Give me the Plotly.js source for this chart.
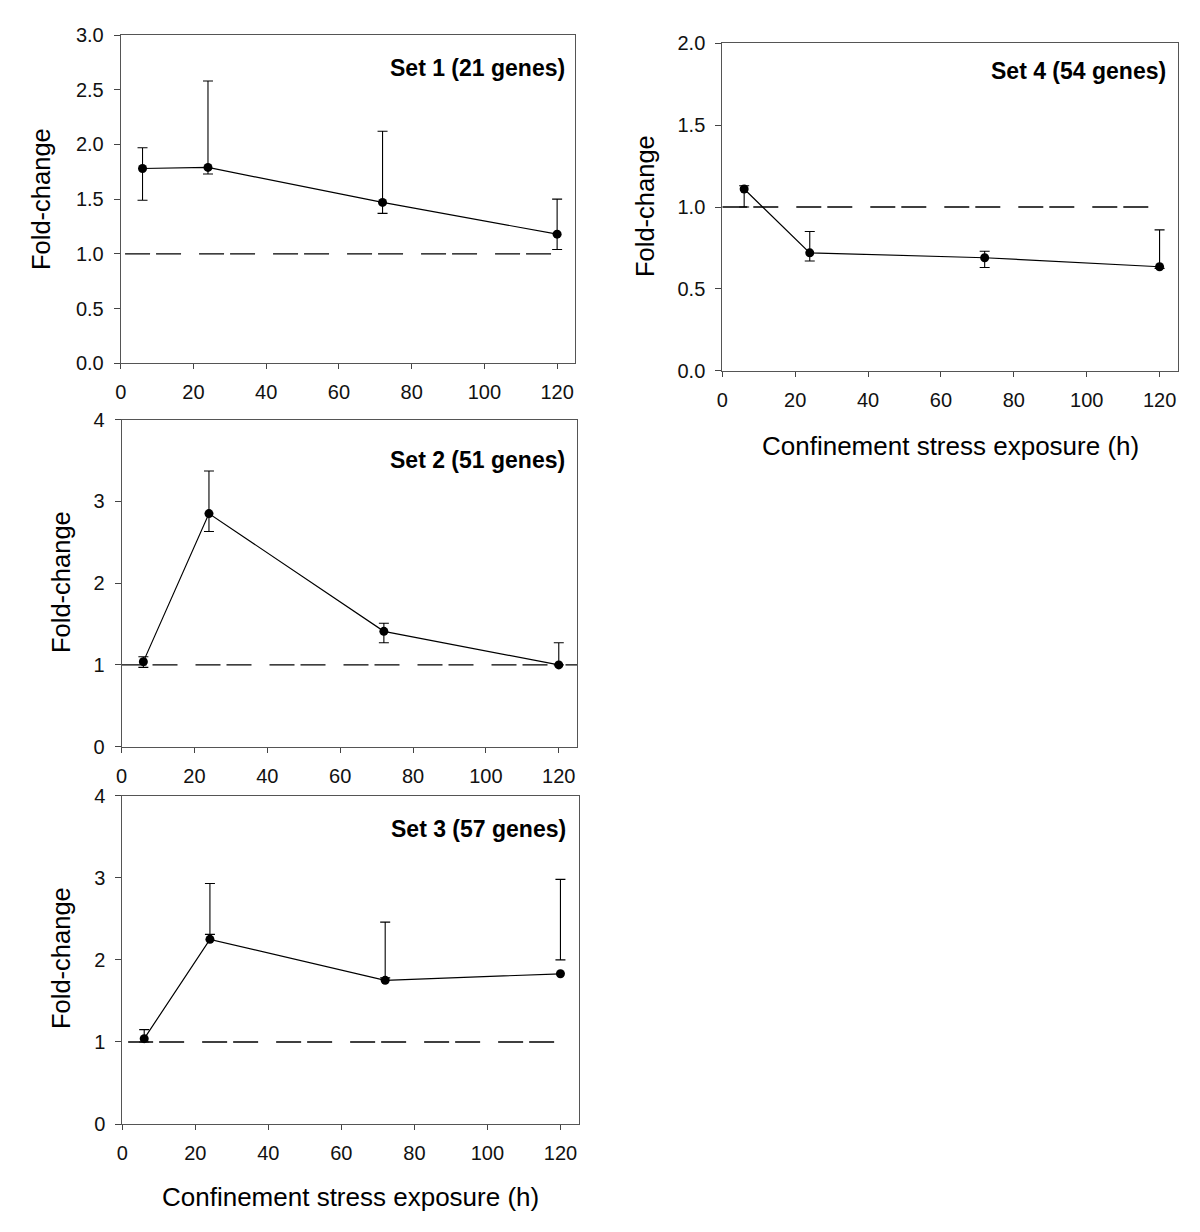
<!DOCTYPE html>
<html>
<head>
<meta charset="utf-8">
<script src="https://cdn.plot.ly/plotly-3.0.1.min.js"></script>
<style>
  html, body { margin: 0; padding: 0; background: #ffffff; }
  #chart { width: 1200px; height: 1232px; }
</style>
</head>
<body>
<div id="chart"></div>
<script>
// ---- Data ----
const hours = [6, 24, 72, 120];
const xTicks = [0, 20, 40, 60, 80, 100, 120];

const set1Mean  = [1.78, 1.79, 1.47, 1.18];
const set1Upper = [1.97, 2.58, 2.12, 1.50];
const set1Lower = [1.49, 1.73, 1.37, 1.04];

const set2Mean  = [1.04, 2.85, 1.41, 1.00];
const set2Upper = [1.10, 3.37, 1.51, 1.27];
const set2Lower = [0.97, 2.63, 1.27, 1.00];

const set3Mean  = [1.04, 2.25, 1.75, 1.83];
const set3Upper = [1.15, 2.93, 2.46, 2.98];
const set3Lower = [1.00, 2.31, 1.78, 2.00];

const set4Mean  = [1.11, 0.72, 0.69, 0.635];
const set4Upper = [1.13, 0.85, 0.73, 0.86];
const set4Lower = [1.00, 0.67, 0.63, 0.625];

const baselineValue = 1;
const baseline1X = [1.2, 120];
const baseline2X = [0, 125];
const baseline3X = [1.6, 120];
const baseline4X = [0, 120];

const panelTitles = ['Set 1 (21 genes)', 'Set 2 (51 genes)', 'Set 3 (57 genes)', 'Set 4 (54 genes)'];
const yTitle = 'Fold-change';
const xTitle = 'Confinement stress exposure (h)';

// ---- Helpers ----
const W = 1200, H = 1232;
const FONT = '"Liberation Sans", Arial, Helvetica, sans-serif';
const px = v => v / W;
const py = v => 1 - v / H;

function seriesTrace(mean, upper, lower, xa, ya) {
  return {
    type: 'scatter', mode: 'lines+markers',
    x: hours, y: mean, xaxis: xa, yaxis: ya,
    line: { color: '#000', width: 1.2 },
    marker: { color: '#000', size: 9, symbol: 'circle' },
    error_y: {
      type: 'data', symmetric: false,
      array: upper.map((u, i) => u - mean[i]),
      arrayminus: lower.map((l, i) => mean[i] - l),
      color: '#000', thickness: 1.1, width: 5
    },
    hoverinfo: 'x+y', showlegend: false
  };
}
function baselineTrace(bx, xa, ya) {
  return {
    type: 'scatter', mode: 'lines',
    x: bx, y: bx.map(() => baselineValue), xaxis: xa, yaxis: ya,
    line: { color: '#000', width: 1.4, dash: '25px,6px,25px,18px' },
    hoverinfo: 'skip', showlegend: false
  };
}

const data = [
  baselineTrace(baseline1X, 'x', 'y'),
  seriesTrace(set1Mean, set1Upper, set1Lower, 'x', 'y'),
  baselineTrace(baseline2X, 'x2', 'y2'),
  seriesTrace(set2Mean, set2Upper, set2Lower, 'x2', 'y2'),
  baselineTrace(baseline3X, 'x3', 'y3'),
  seriesTrace(set3Mean, set3Upper, set3Lower, 'x3', 'y3'),
  baselineTrace(baseline4X, 'x4', 'y4'),
  seriesTrace(set4Mean, set4Upper, set4Lower, 'x4', 'y4')
];

function xAxis(domain, anchor) {
  return {
    domain: domain, anchor: anchor, range: [0, 125],
    tickmode: 'array', tickvals: xTicks, ticktext: xTicks.map(String),
    ticks: 'outside', ticklen: 5, tickcolor: '#444', tickwidth: 1,
    showline: true, linecolor: '#555', linewidth: 1, mirror: true,
    showgrid: false, zeroline: false,
    tickfont: { family: FONT, size: 20, color: '#111' },
    ticklabelstandoff: 6, fixedrange: true
  };
}
function yAxis(domain, anchor, range, dtick, fmt) {
  return {
    domain: domain, anchor: anchor, range: range,
    tick0: 0, dtick: dtick, tickformat: fmt,
    ticks: 'outside', ticklen: 6, tickcolor: '#444', tickwidth: 1,
    showline: true, linecolor: '#555', linewidth: 1, mirror: true,
    showgrid: false, zeroline: false,
    tickfont: { family: FONT, size: 20, color: '#111' },
    ticklabelstandoff: 6, fixedrange: true
  };
}

// panel geometry in pixels
const P1 = { l: 120.7, r: 575.3, t: 35,    b: 363.3 };
const P2 = { l: 121.5, r: 577.0, t: 419.5, b: 746.7 };
const P3 = { l: 122.3, r: 578.7, t: 795.7, b: 1124 };
const P4 = { l: 722.3, r: 1177.8, t: 43.3, b: 370.7 };
const dx = P => [px(P.l), px(P.r)];
const dy = P => [py(P.b), py(P.t)];

function titleAnn(text, x, y) {
  return { text: text, xref: 'paper', yref: 'paper', x: px(x), y: py(y),
    xanchor: 'right', yanchor: 'middle', showarrow: false,
    font: { family: FONT, size: 23, color: '#000', weight: 'bold' } };
}
function yTitleAnn(x, y) {
  return { text: yTitle, xref: 'paper', yref: 'paper', x: px(x), y: py(y),
    xanchor: 'center', yanchor: 'middle', textangle: -90, showarrow: false,
    font: { family: FONT, size: 25.5, color: '#000' } };
}
function xTitleAnn(x, y) {
  return { text: xTitle, xref: 'paper', yref: 'paper', x: px(x), y: py(y),
    xanchor: 'center', yanchor: 'middle', showarrow: false,
    font: { family: FONT, size: 26, color: '#000' } };
}

const layout = {
  width: W, height: H,
  margin: { l: 0, r: 0, t: 0, b: 0 },
  paper_bgcolor: '#fff', plot_bgcolor: '#fff',
  showlegend: false,
  font: { family: FONT, color: '#000' },
  xaxis:  xAxis(dx(P1), 'y'),
  yaxis:  yAxis(dy(P1), 'x', [0, 3], 0.5, '.1f'),
  xaxis2: xAxis(dx(P2), 'y2'),
  yaxis2: yAxis(dy(P2), 'x2', [0, 4], 1, 'd'),
  xaxis3: xAxis(dx(P3), 'y3'),
  yaxis3: yAxis(dy(P3), 'x3', [0, 4], 1, 'd'),
  xaxis4: xAxis(dx(P4), 'y4'),
  yaxis4: yAxis(dy(P4), 'x4', [0, 2], 0.5, '.1f'),
  annotations: [
    titleAnn(panelTitles[0], 567, 68),
    titleAnn(panelTitles[1], 567, 460),
    titleAnn(panelTitles[2], 568, 829),
    titleAnn(panelTitles[3], 1168, 71),
    yTitleAnn(41, 199),
    yTitleAnn(61, 582),
    yTitleAnn(61, 958),
    yTitleAnn(645, 206),
    xTitleAnn(350, 1197),
    xTitleAnn(950, 446)
  ]
};

Plotly.newPlot('chart', data, layout, { staticPlot: true, displayModeBar: false });
</script>
</body>
</html>
